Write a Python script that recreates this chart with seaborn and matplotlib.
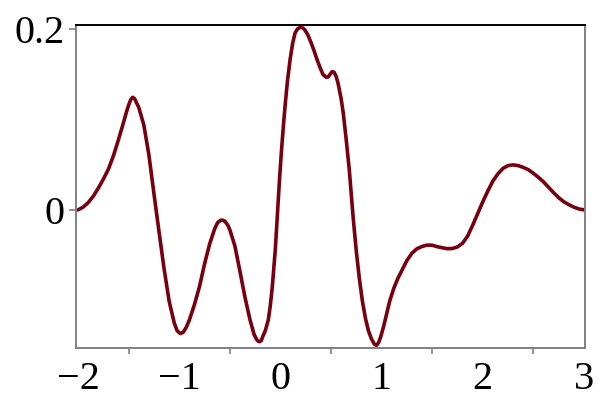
import matplotlib
matplotlib.use("Agg")
import matplotlib.pyplot as plt
import seaborn as sns
import pandas as pd
from matplotlib.ticker import MultipleLocator, FixedLocator

x_vals = [-2.00, -1.95, -1.90, -1.85, -1.80, -1.75, -1.70, -1.65, -1.60, -1.55,
          -1.52, -1.50, -1.48, -1.46, -1.44, -1.42, -1.40, -1.35, -1.30, -1.25,
          -1.20, -1.15, -1.10, -1.05, -1.02, -0.99, -0.96, -0.93, -0.90, -0.85,
          -0.80, -0.75, -0.70, -0.65, -0.62, -0.59, -0.57, -0.55, -0.52, -0.50,
          -0.45, -0.40, -0.35, -0.30, -0.26, -0.23, -0.21, -0.19, -0.17, -0.15,
          -0.12, -0.10, -0.08, -0.05, -0.03, -0.01, 0.01, 0.03, 0.05, 0.07,
          0.095, 0.12, 0.145, 0.17, 0.20, 0.22, 0.24, 0.27, 0.30, 0.33,
          0.36, 0.39, 0.42, 0.45, 0.47, 0.49, 0.51, 0.53, 0.55, 0.57,
          0.60, 0.62, 0.65, 0.68, 0.70, 0.72, 0.75, 0.78, 0.81, 0.84,
          0.87, 0.90, 0.93, 0.95, 0.97, 0.99, 1.02, 1.05, 1.08, 1.12,
          1.16, 1.20, 1.25, 1.30, 1.35, 1.40, 1.45, 1.50, 1.55, 1.60,
          1.65, 1.70, 1.75, 1.80, 1.85, 1.90, 1.95, 2.00, 2.05, 2.10,
          2.15, 2.20, 2.25, 2.30, 2.35, 2.40, 2.45, 2.50, 2.55, 2.60,
          2.65, 2.70, 2.75, 2.80, 2.85, 2.90, 2.95, 3.00]
y_vals = [0.000, 0.003, 0.008, 0.015, 0.024, 0.034, 0.045, 0.060, 0.078, 0.097,
          0.109, 0.116, 0.122, 0.1246, 0.123, 0.118, 0.1135, 0.094, 0.061, 0.018,
          -0.024, -0.065, -0.101, -0.125, -0.134, -0.137, -0.1355, -0.130, -0.122, -0.105,
          -0.085, -0.060, -0.038, -0.021, -0.014, -0.0115, -0.0114, -0.0125, -0.017, -0.022,
          -0.040, -0.068, -0.097, -0.122, -0.138, -0.1445, -0.146, -0.145, -0.139, -0.134,
          -0.122, -0.106, -0.085, -0.043, -0.006, 0.032, 0.065, 0.094, 0.120, 0.143,
          0.166, 0.184, 0.196, 0.2005, 0.2025, 0.2015, 0.1995, 0.194, 0.186, 0.177,
          0.167, 0.158, 0.150, 0.147, 0.147, 0.150, 0.153, 0.1525, 0.148, 0.140,
          0.123, 0.108, 0.078, 0.045, 0.017, -0.010, -0.046, -0.076, -0.101, -0.120,
          -0.134, -0.143, -0.149, -0.150, -0.147, -0.141, -0.129, -0.115, -0.101, -0.087,
          -0.076, -0.067, -0.056, -0.048, -0.043, -0.0405, -0.039, -0.0392, -0.0408, -0.042,
          -0.043, -0.0428, -0.041, -0.037, -0.029, -0.017, -0.004, 0.009, 0.021, 0.032,
          0.040, 0.046, 0.049, 0.0498, 0.049, 0.047, 0.0445, 0.0405, 0.036, 0.031,
          0.025, 0.019, 0.0135, 0.009, 0.0058, 0.003, 0.001, 0.000]

x_ticks = [-2, -1, 0, 1, 2, 3]
x_tick_labels = ["\u22122", "\u22121", "0", "1", "2", "3"]
y_ticks = [0, 0.2]
y_tick_labels = ["0", "0.2"]

sns.set_style("white")
plt.rcParams['font.family'] = ['Liberation Serif', 'DejaVu Serif']

df = pd.DataFrame({"x": x_vals, "y": y_vals})

fig = plt.figure(figsize=(6, 4.12), dpi=100)
ax = fig.add_axes([0.1267, 0.1553, 0.8483, 0.784])
sns.lineplot(data=df, x="x", y="y", sort=False, color="#78000E", linewidth=2.6,
             solid_joinstyle="round", solid_capstyle="round", ax=ax)

ax.set_xlim(-2.02, 3.01)
ax.set_ylim(-0.153, 0.2047)
ax.set_xlabel("")
ax.set_ylabel("")

ax.xaxis.set_major_locator(FixedLocator(x_ticks))
ax.set_xticklabels(x_tick_labels)
ax.xaxis.set_minor_locator(MultipleLocator(0.5))
ax.yaxis.set_major_locator(FixedLocator(y_ticks))
ax.set_yticklabels(y_tick_labels)

gray = "#808080"
for side in ["left", "bottom", "right"]:
    ax.spines[side].set_color(gray)
    ax.spines[side].set_linewidth(1.4)
    ax.spines[side].set_visible(True)
ax.spines["top"].set_color("black")
ax.spines["top"].set_linewidth(1.4)
ax.spines["top"].set_visible(True)

ax.tick_params(axis="x", which="major", direction="out", length=5, width=1.2,
               color=gray, labelsize=29, pad=4, labelcolor="black")
ax.tick_params(axis="x", which="minor", direction="out", length=4, width=1.2,
               color=gray, bottom=True)
ax.tick_params(axis="y", which="major", direction="out", length=5, width=1.2,
               color=gray, labelsize=29, pad=3, labelcolor="black", left=True)

fig.savefig("out.png", dpi=100, facecolor="white")
